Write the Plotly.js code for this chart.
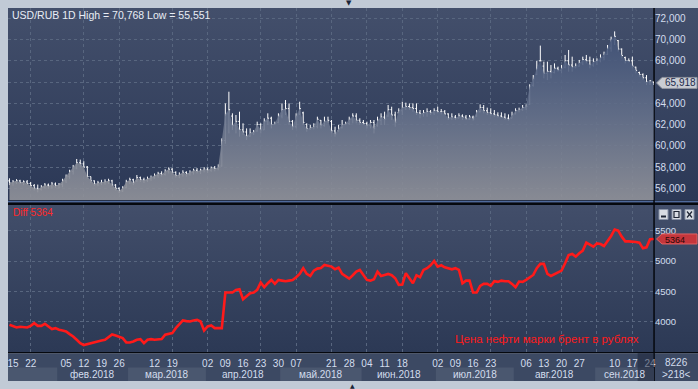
<!DOCTYPE html>
<html><head><meta charset="utf-8">
<script src="https://cdn.plot.ly/plotly-3.0.1.min.js"></script>
<style>html,body{margin:0;padding:0;background:#c1cad6;overflow:hidden}#chart{width:698px;height:389px}</style>
</head><body><div id="chart"></div>
<script>
// ---------------- DATA ----------------
const startDate = '2018-01-12';
const usdOpen = [56.70,56.50,56.60,56.70,56.55,56.60,56.45,56.25,56.00,55.90,
 56.10,56.30,56.20,56.40,56.25,56.35,56.70,57.10,57.60,57.90,
 58.40,58.30,58.00,57.10,56.70,56.40,56.50,56.55,56.60,56.70,
 56.30,56.00,55.75,56.05,56.60,56.80,56.70,57.00,56.80,56.75,
 56.90,57.00,57.20,57.40,57.30,57.60,57.80,57.50,57.20,57.30,
 57.50,57.35,57.50,57.70,57.60,57.70,57.80,57.70,57.90,57.85,
 58.10,60.50,63.00,62.80,61.90,62.30,61.50,61.30,60.90,61.20,
 61.40,62.00,61.50,62.30,62.60,62.00,62.20,62.80,63.40,63.50,
 62.30,61.80,63.00,63.10,62.00,61.60,61.70,61.80,62.40,61.90,
 62.30,62.30,61.40,61.40,61.70,62.00,62.10,62.50,62.80,62.40,
 62.20,62.10,61.90,62.20,61.90,62.40,62.70,62.80,63.40,62.90,
 63.10,63.30,63.60,63.70,63.60,63.50,63.10,63.00,63.10,63.20,
 63.10,63.30,63.20,63.20,63.00,62.60,62.70,62.60,62.80,62.70,
 62.50,62.70,62.80,63.20,63.60,63.30,63.10,63.00,62.90,62.80,
 62.70,62.60,62.60,63.00,63.30,63.40,63.60,63.90,65.70,66.70,
 68.00,67.50,66.80,67.00,66.90,67.30,67.10,67.40,68.00,67.60,
 67.40,67.50,67.80,68.10,68.00,67.60,67.90,68.00,68.30,68.60,
 69.20,70.00,69.90,69.10,68.30,68.00,68.00,67.40,66.90,66.70,
 66.40,66.00,66.00];
const usdHigh = [56.94,56.78,56.86,56.80,56.75,56.78,56.60,56.40,56.35,56.30,
 56.50,56.45,56.60,56.55,56.50,56.90,57.30,57.75,58.20,58.76,
 58.70,58.55,58.10,57.10,56.75,56.70,56.80,56.85,56.90,56.80,
 56.40,56.10,56.20,56.80,57.00,56.90,57.25,57.10,57.00,57.10,
 57.20,57.40,57.55,57.60,57.80,57.97,57.90,57.60,57.50,57.70,
 57.60,57.70,57.85,57.90,57.85,58.00,57.95,58.05,58.10,58.25,
 60.70,63.99,65.09,63.06,62.90,63.21,62.12,61.64,61.64,61.49,
 62.27,62.12,62.59,63.06,62.74,62.27,63.06,63.99,64.31,63.99,
 62.43,63.06,64.15,63.21,62.12,61.96,62.12,62.74,62.43,62.74,
 62.74,62.43,61.80,61.96,62.43,62.27,62.74,63.06,63.06,62.59,
 62.43,62.27,62.43,62.43,62.74,63.06,63.21,63.84,63.68,63.21,
 63.53,64.15,64.06,63.99,63.99,63.99,63.37,63.37,63.53,63.37,
 63.53,63.68,63.46,63.37,63.06,63.06,62.90,63.06,62.96,62.90,
 62.90,62.84,63.37,63.90,63.84,63.59,63.53,63.37,63.15,63.15,
 63.06,62.96,63.21,63.53,63.59,63.84,63.90,65.79,66.66,67.98,
 69.43,67.92,67.92,67.60,67.76,67.45,67.60,68.55,69.02,68.39,
 67.76,68.08,68.39,68.55,68.39,68.23,68.23,68.61,68.86,69.49,
 70.27,70.768,69.96,69.17,68.39,68.23,68.39,67.45,66.98,66.82,
 66.66,66.19,66.04];
const usdLow = [56.30,56.25,56.40,56.40,56.30,56.35,56.05,55.80,55.62,55.80,
 56.00,55.95,56.00,56.05,56.00,56.10,56.50,56.90,57.30,57.80,
 58.00,57.90,56.90,56.50,56.25,56.20,56.30,56.35,56.40,56.20,
 55.80,55.551,55.65,56.00,56.40,56.30,56.60,56.60,56.50,56.60,
 56.70,56.90,57.00,57.10,57.20,57.40,57.30,57.00,56.95,57.10,
 57.10,57.20,57.30,57.40,57.35,57.50,57.45,57.55,57.60,57.70,
 58.04,60.20,61.17,61.49,61.17,60.86,61.02,60.55,60.86,61.02,
 61.33,61.17,61.49,61.96,61.64,61.96,62.12,62.59,62.90,61.96,
 61.49,61.64,62.90,61.96,61.33,61.49,61.55,61.64,61.64,61.80,
 62.12,61.17,60.86,61.33,61.64,61.96,61.96,62.12,62.12,61.96,
 61.96,61.64,61.64,61.17,61.80,61.96,61.96,62.74,62.43,61.80,
 63.06,62.90,63.37,63.37,63.21,62.90,62.59,62.74,62.74,62.90,
 62.90,63.06,62.96,62.90,62.43,62.43,62.43,62.59,62.43,62.43,
 62.43,62.37,62.74,63.15,63.06,62.90,62.84,62.74,62.65,62.65,
 62.43,62.37,62.59,62.96,63.15,63.28,63.37,63.84,65.57,66.66,
 67.92,66.35,66.19,66.35,66.82,66.98,66.82,67.29,66.98,66.98,
 67.29,67.45,67.60,67.76,67.29,67.45,67.60,67.86,68.08,68.55,
 68.86,69.49,68.86,68.23,67.76,67.86,67.29,66.82,66.51,66.19,
 65.72,65.72,65.72];
const usdClose = [56.50,56.60,56.70,56.55,56.60,56.45,56.25,56.00,55.90,56.10,
 56.30,56.20,56.40,56.25,56.35,56.70,57.10,57.60,57.90,58.40,
 58.30,58.00,57.10,56.70,56.40,56.50,56.55,56.60,56.70,56.30,
 56.00,55.75,56.05,56.60,56.80,56.50,57.00,56.80,56.75,56.90,
 57.00,57.20,57.40,57.30,57.60,57.80,57.50,57.20,57.30,57.50,
 57.35,57.50,57.70,57.60,57.70,57.80,57.70,57.90,57.85,58.00,
 60.50,63.00,63.40,61.90,62.30,61.50,61.30,60.90,61.20,61.30,
 62.00,61.50,62.30,62.60,62.00,62.10,62.80,63.40,63.50,62.30,
 61.80,62.80,63.50,62.20,61.60,61.70,61.80,62.50,61.90,62.30,
 62.40,61.40,61.10,61.60,62.00,62.10,62.50,62.80,62.40,62.20,
 62.10,61.90,62.20,61.60,62.40,62.70,62.50,63.40,62.90,62.20,
 63.30,63.60,63.70,63.60,63.50,63.10,63.00,63.10,63.20,63.10,
 63.30,63.20,63.20,63.00,62.60,62.70,62.60,62.80,62.70,62.50,
 62.70,62.50,63.20,63.60,63.30,63.10,63.00,62.90,62.80,62.70,
 62.60,62.50,62.90,63.30,63.40,63.60,63.70,65.60,66.30,67.30,
 68.00,66.80,67.00,66.90,67.30,67.10,67.30,68.00,67.60,67.40,
 67.50,67.80,68.10,68.00,67.60,67.90,68.00,68.30,68.60,69.20,
 70.00,70.30,69.10,68.50,68.00,68.00,67.50,67.10,66.70,66.40,
 66.00,66.10,65.918];
const brentRub = [3954,3926,3910,3921,3910,3910,3937,3981,3937,3937,
 3970,3926,3883,3899,3872,3861,3844,3801,3762,3708,
 3653,3620,3637,3653,3664,3680,3697,3708,3752,3795,
 3779,3762,3735,3664,3664,3680,3708,3719,3653,3708,
 3719,3708,3708,3719,3790,3806,3817,3899,3965,4025,
 4014,4008,4025,4036,4008,3861,3926,3943,3899,3905,
 3899,4484,4489,4484,4527,4538,4374,4418,4473,4484,
 4527,4648,4571,4637,4691,4626,4691,4680,4669,4680,
 4691,4735,4790,4883,4790,4757,4844,4877,4888,4937,
 4926,4910,4866,4893,4790,4746,4713,4768,4828,4855,
 4768,4691,4680,4702,4828,4757,4773,4790,4768,4719,
 4609,4615,4801,4719,4637,4768,4735,4855,4883,4932,
 5003,4910,4932,4899,4883,4866,4883,4855,4637,4680,
 4680,4484,4484,4593,4626,4626,4593,4669,4659,4680,
 4669,4669,4626,4571,4664,4659,4691,4735,4773,4883,
 4954,4954,4790,4757,4790,4822,4844,4965,5101,5118,
 5074,5128,5172,5303,5265,5238,5292,5281,5249,5325,
 5413,5520,5500,5402,5325,5325,5325,5314,5303,5210,
 5227,5358,5364];
const dayTickDates = ['2018-01-15','2018-01-22','2018-02-05','2018-02-12','2018-02-19','2018-02-26',
 '2018-03-12','2018-03-19','2018-04-02','2018-04-09','2018-04-16','2018-04-23','2018-04-30',
 '2018-05-07','2018-05-21','2018-05-28','2018-06-04','2018-06-11','2018-06-18',
 '2018-07-02','2018-07-09','2018-07-16','2018-07-23','2018-08-06','2018-08-13','2018-08-20','2018-08-27',
 '2018-09-10','2018-09-17','2018-09-24'];
const gridDates = ['2018-01-22','2018-02-12','2018-02-26','2018-03-19','2018-04-02','2018-04-23',
 '2018-05-07','2018-05-21','2018-06-04','2018-06-18','2018-07-02','2018-07-23','2018-08-06',
 '2018-08-20','2018-09-03','2018-09-17'];
const monthKeys = ['2018-01','2018-02','2018-03','2018-04','2018-05','2018-06','2018-07','2018-08','2018-09'];
const monthLabels = ['','фев.2018','мар.2018','апр.2018','май.2018','июн.2018','июл.2018','авг.2018','сен.2018'];
const usdTicks = [56,58,60,62,64,66,68,70,72];
const brentTicks = [4000,4500,5000,5500];
const instrument = 'USD/RUB 1D';
const brentLabel = 'Цена нефти марки брент в рублях';
const footTop = '8226', footBottom = '>218<';

// ---------------- HELPERS ----------------
function tradingDays(start, n){
  const out=[]; const d=new Date(start+'T00:00:00Z');
  while(out.length<n){ const w=d.getUTCDay(); if(w!==0&&w!==6) out.push(d.toISOString().slice(0,10)); d.setUTCDate(d.getUTCDate()+1); }
  return out;
}
const dates = tradingDays(startDate, usdClose.length);
const idx = dates.map((_, i) => i);
const dayIdx = dayTickDates.map(s => dates.indexOf(s));
const dayText = dayTickDates.map(s => s.slice(8));
const gridIdx = gridDates.map(s => dates.indexOf(s));
const fmt = v => v.toFixed(3).replace('.', ',');
const last = usdClose.length - 1;
// labels hidden behind the last-price tag (as in the terminal)
const usdTickText = usdTicks.map(v => Math.abs(v - usdClose[last]) < 0.9 ? '' : fmt(v));

const FONT = '"Liberation Sans", Arial, sans-serif';
const L = 8, R = 654, T = 8, B = 352;
const PW = R - L, PH = B - T;
const px = v => (v - L) / PW;
const py = v => (B - v) / PH;
const xRange = [-0.413, 182.12];

// ---------------- BACKGROUND ----------------
const svg = '<svg xmlns="http://www.w3.org/2000/svg" width="690" height="373" viewBox="0 0 690 373">' +
 '<defs><linearGradient id="a" x1="0" y1="0" x2="0" y2="1"><stop offset="0" stop-color="#434f6b"/><stop offset="1" stop-color="#2b3856"/></linearGradient>' +
 '<linearGradient id="b" x1="0" y1="0" x2="0" y2="1"><stop offset="0" stop-color="#424e6a"/><stop offset="1" stop-color="#2c3955"/></linearGradient></defs>' +
 '<rect x="0" y="0" width="690" height="192" fill="url(#a)"/>' +
 '<rect x="0" y="192" width="690" height="5" fill="#27324a"/>' +
 '<rect x="0" y="193" width="690" height="1" fill="#4f6a9c"/>' +
 '<rect x="0" y="195" width="690" height="2" fill="#05080e"/>' +
 '<rect x="0" y="197" width="690" height="147" fill="url(#b)"/>' +
 '<rect x="0" y="344" width="690" height="1.5" fill="#05080e"/>' +
 '<rect x="0" y="345.5" width="690" height="27.5" fill="#3c4963"/>' +
 '<rect x="645.3" y="0" width="1.5" height="373" fill="#05080e"/>' +
 '</svg>';

// ---------------- TRACES ----------------
const traces = [
  {type:'scatter', mode:'lines', x: idx, y: usdClose, xaxis:'x', yaxis:'y',
   line:{width:0, color:'rgba(0,0,0,0)'}, fill:'tozeroy',
   fillgradient:{type:'vertical', start:55, stop:71,
     colorscale:[[0,'rgba(142,144,152,0.93)'],[0.5,'rgba(100,112,138,0.9)'],[1,'rgba(62,80,118,0.9)']]},
   hoverinfo:'skip', showlegend:false},
  {type:'ohlc', x: idx, open: usdOpen, high: usdHigh, low: usdLow, close: usdClose, xaxis:'x', yaxis:'y',
   increasing:{line:{color:'#ffffff', width:1}}, decreasing:{line:{color:'#ffffff', width:1}},
   tickwidth:0.35, hoverinfo:'skip', showlegend:false},
  {type:'scatter', mode:'lines', x: idx, y: brentRub, xaxis:'x', yaxis:'y2',
   line:{color:'#ff1a1a', width:2.6}, hoverinfo:'skip', showlegend:false},
  {type:'scatter', mode:'markers', x: [], y: [], xaxis:'x2', yaxis:'y2', showlegend:false, hoverinfo:'skip'}
];

// ---------------- DECORATION ----------------
const shapes = [];
const annotations = [];
const gridCol = '#58667f';

// month bands & labels
monthKeys.forEach((k, m) => {
  const ids = idx.filter(i => dates[i].slice(0,7) === k);
  if (!ids.length) return;
  const a = ids[0] - 0.5, b = ids[ids.length-1] + 0.5;
  if (m % 2 === 0) shapes.push({type:'rect', xref:'x', yref:'paper', x0:a, x1:b, y0:py(381), y1:py(367.5),
      fillcolor:'#4a576f', line:{width:0}, layer:'above'});
  if (monthLabels[m]) annotations.push({xref:'x', yref:'paper', x:(ids[0]+ids[ids.length-1])/2, y:py(374.5),
      text: monthLabels[m], showarrow:false, font:{family:FONT, size:10, color:'#d3ddee'}, xanchor:'center', yanchor:'middle'});
});
// current week highlight
shapes.push({type:'rect', xref:'x', yref:'paper', x0:last-4.5, x1:xRange[1]+1, y0:py(381), y1:py(353),
  fillcolor:'rgba(28,36,56,0.5)', line:{width:0}, layer:'above'});

// price tags
function tag(yref, c, h, fill, border){
  const xt = px(656.5), xl = px(662), xr = px(697);
  return {type:'path', xref:'paper', yref:yref, layer:'above',
    path:`M ${xt},${c} L ${xl},${c+h} L ${xr},${c+h} L ${xr},${c-h} L ${xl},${c-h} Z`,
    fillcolor:fill, line:{color:border, width:1}};
}
shapes.push(tag('y', usdClose[last], 5.5/10.625, '#c9ccd3', '#8e939e'));
shapes.push(tag('y2', brentRub[last], 5/0.06087, '#c5363c', '#e06060'));
annotations.push({xref:'paper', yref:'y', x:px(663), y:usdClose[last], text: fmt(usdClose[last]), showarrow:false,
  xanchor:'left', yanchor:'middle', font:{family:FONT, size:10, color:'#1c2a4c'}});
annotations.push({xref:'paper', yref:'y2', x:px(663), y:brentRub[last], text: String(brentRub[last]), showarrow:false,
  xanchor:'left', yanchor:'middle', yshift:-1, height:8, font:{family:FONT, size:9, color:'#2a0808'}});

// window buttons
const btn = [[659,668],[672,681],[685,694]];
btn.forEach(([a,b]) => shapes.push({type:'rect', xref:'paper', yref:'paper', x0:px(a), x1:px(b), y0:py(219.5), y1:py(209.5),
  fillcolor:'#d8dce3', line:{color:'#8a94a8', width:1}, layer:'above'}));
shapes.push({type:'rect', xref:'paper', yref:'paper', x0:px(661), x1:px(666), y0:py(217.5), y1:py(215.5), fillcolor:'#1f2636', line:{width:0}, layer:'above'});
shapes.push({type:'rect', xref:'paper', yref:'paper', x0:px(674), x1:px(679), y0:py(217.5), y1:py(211.5), fillcolor:'rgba(0,0,0,0)', line:{color:'#1f2636', width:1.2}, layer:'above'});
shapes.push({type:'line', xref:'paper', yref:'paper', x0:px(687), x1:px(692), y0:py(211.5), y1:py(217.5), line:{color:'#1f2636', width:1.2}, layer:'above'});
shapes.push({type:'line', xref:'paper', yref:'paper', x0:px(692), x1:px(687), y0:py(211.5), y1:py(217.5), line:{color:'#1f2636', width:1.2}, layer:'above'});

// texts
annotations.push({xref:'paper', yref:'paper', x:px(10), y:py(15), xanchor:'left', yanchor:'middle', showarrow:false,
  text:`${instrument} High = ${fmt(Math.max(...usdHigh))} Low = ${fmt(Math.min(...usdLow))}`,
  font:{family:FONT, size:10.5, color:'#e8edf5'}});
annotations.push({xref:'paper', yref:'paper', x:px(10.5), y:py(212.5), xanchor:'left', yanchor:'middle', showarrow:false,
  text:`Diff ${brentRub[last]}`, font:{family:FONT, size:10, color:'#ff2a2a'}});
annotations.push({xref:'paper', yref:'paper', x:px(641), y:py(339), xanchor:'right', yanchor:'middle', showarrow:false,
  text: brentLabel, font:{family:FONT, size:11.5, color:'#ff1a1a'}});
annotations.push({xref:'paper', yref:'paper', x:px(676), y:py(362.5), xanchor:'center', yanchor:'middle', showarrow:false,
  text: footTop, font:{family:FONT, size:10, color:'#d3ddee'}});
annotations.push({xref:'paper', yref:'paper', x:px(676), y:py(375), xanchor:'center', yanchor:'middle', showarrow:false,
  text: footBottom, font:{family:FONT, size:10, color:'#d3ddee'}});
annotations.push({xref:'paper', yref:'paper', x:px(349), y:py(3), xanchor:'center', yanchor:'middle', showarrow:false,
  text:'▼', font:{family:'DejaVu Sans', size:7, color:'#1a2438'}});
annotations.push({xref:'paper', yref:'paper', x:px(352), y:py(385), xanchor:'center', yanchor:'middle', showarrow:false,
  text:'▲', font:{family:'DejaVu Sans', size:6, color:'#1a2438'}});

// ---------------- LAYOUT ----------------
const axFont = {family:FONT, size:10, color:'#d3ddee'};
const layout = {
  width:698, height:389, margin:{l:L, r:698-R, t:T, b:389-B, pad:0},
  paper_bgcolor:'#c1cad6', plot_bgcolor:'rgba(0,0,0,0)',
  separators:', ', showlegend:false, hovermode:false,
  font:axFont,
  images:[{source:'data:image/svg+xml;charset=utf-8,' + encodeURIComponent(svg), xref:'paper', yref:'paper',
    x:0, y:1, sizex:690/PW, sizey:373/PH, xanchor:'left', yanchor:'top', sizing:'stretch', layer:'below'}],
  xaxis:{range:xRange, anchor:'y2', tickmode:'array', tickvals:gridIdx, showticklabels:false, ticks:'',
    showgrid:true, gridcolor:gridCol, griddash:'3px,3px', gridwidth:1, zeroline:false, showline:false,
    rangeslider:{visible:false}, fixedrange:true},
  xaxis2:{range:xRange, overlaying:'x', anchor:'y2', side:'bottom', tickmode:'array', tickvals:dayIdx, ticktext:dayText,
    ticks:'', ticklabelstandoff:4, showgrid:false, zeroline:false, showline:false, tickfont:axFont, fixedrange:true},
  yaxis:{domain:[(B-200)/PH, 1], range:[54.90, 72.97], side:'right', tickmode:'array', tickvals:usdTicks, ticktext:usdTickText,
    ticks:'', showgrid:true, gridcolor:gridCol, griddash:'3px,3px', zeroline:false, showline:false, tickfont:axFont, fixedrange:true},
  yaxis2:{domain:[0, (B-205)/PH], range:[3507, 5922], side:'right', tickmode:'array', tickvals:brentTicks,
    ticks:'', showgrid:true, gridcolor:gridCol, griddash:'3px,3px', zeroline:false, showline:false,
    tickfont:{family:FONT, size:9.5, color:'#d3ddee'}, fixedrange:true},
  shapes: shapes,
  annotations: annotations
};
Plotly.newPlot('chart', traces, layout, {staticPlot:true, displayModeBar:false});
</script>
</body></html>
